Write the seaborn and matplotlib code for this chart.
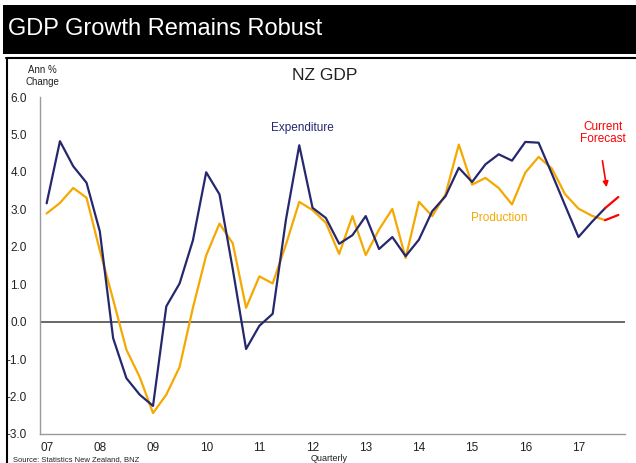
import matplotlib
matplotlib.use("Agg")
import matplotlib.pyplot as plt
from matplotlib.patches import Rectangle, FancyArrowPatch
from matplotlib.lines import Line2D
import numpy as np
import pandas as pd
import seaborn as sns

# ---- data (annual % change, quarterly 2007Q1 .. 2017Q4) ----
expenditure = [3.16, 4.82, 4.15, 3.71, 2.41, -0.44, -1.51, -1.95, -2.25, 0.41,
               1.02, 2.17, 3.99, 3.40, 1.40, -0.73, -0.11, 0.21, 2.73, 4.71,
               3.04, 2.77, 2.08, 2.31, 2.82, 1.94, 2.26, 1.75, 2.19, 2.95,
               3.35, 4.11, 3.73, 4.20, 4.47, 4.30, 4.80, 4.78, 3.95, 3.10,
               2.26, 2.66, 3.03]
production = [2.89, 3.17, 3.57, 3.31, 1.90, 0.59, -0.75, -1.48, -2.44, -1.95,
              -1.21, 0.37, 1.77, 2.62, 2.09, 0.37, 1.21, 1.02, 2.06, 3.20,
              2.98, 2.64, 1.81, 2.82, 1.78, 2.46, 3.01, 1.70, 3.20, 2.82,
              3.40, 4.73, 3.66, 3.84, 3.57, 3.13, 3.98, 4.40, 4.09, 3.40,
              3.02, 2.83, 2.71]
forecast_expenditure = [3.03, 3.33]
forecast_production = [2.71, 2.85]
year_labels = ["07", "08", "09", "10", "11", "12", "13", "14", "15", "16", "17"]
y_ticks = [-3.0, -2.0, -1.0, 0.0, 1.0, 2.0, 3.0, 4.0, 5.0, 6.0]

NAVY = "#26286E"
GOLD = "#F5A800"
RED = "#FF0000"

W, H = 636, 463
fig = plt.figure(figsize=(W / 100, H / 100), dpi=100)
sns.set_style("white")
plt.rcParams["font.family"] = ["Liberation Sans", "DejaVu Sans"]

def fx(x):
    return x / W

def fy(y):
    return 1 - y / H

ax = fig.add_axes([fx(40), fy(434), fx(625) - fx(40), fy(97) - fy(434)])

n = len(expenditure)
df = pd.DataFrame({"q": np.arange(n), "Expenditure": expenditure, "Production": production})
fc = pd.DataFrame({"q": [n - 1, n], "fe": forecast_expenditure, "fp": forecast_production})

sns.lineplot(data=df, x="q", y="Production", ax=ax, color=GOLD, linewidth=1.6)
sns.lineplot(data=df, x="q", y="Expenditure", ax=ax, color=NAVY, linewidth=1.6)
sns.lineplot(data=fc, x="q", y="fe", ax=ax, color=RED, linewidth=1.6)
sns.lineplot(data=fc, x="q", y="fp", ax=ax, color=RED, linewidth=1.6)

ax.axhline(0, color="#404040", linewidth=1.1, zorder=1)

ax.set_xlim(-0.5, n + 0.5)
ax.set_ylim(-3.0, 6.0)
ax.set_yticks(y_ticks)
ax.set_yticklabels([f"{v:.1f}" for v in y_ticks])
ax.set_xticks(np.arange(0, n + 1, 4))
ax.set_xticklabels(year_labels)
ax.set_xticks(np.arange(-0.5, n + 1, 1), minor=True)
ax.tick_params(axis="x", which="major", length=0, pad=5.5, labelsize=8.5, labelcolor="#222222")
ax.tick_params(axis="x", which="minor", length=3.5, width=0.8, color="#9a9a9a", direction="out")
ax.tick_params(axis="y", which="major", length=3.5, width=0.8, color="#9a9a9a", pad=6,
               labelsize=8.5, labelcolor="#222222", direction="out")
ax.set_xlabel("")
ax.set_ylabel("")
for s in ["top", "right"]:
    ax.spines[s].set_visible(False)
for s in ["left", "bottom"]:
    ax.spines[s].set_color("#9a9a9a")
    ax.spines[s].set_linewidth(1.0)
ax.patch.set_alpha(0)

# ---- header and frame ----
fig.patches.append(Rectangle((fx(3), fy(54)), fx(633), 49 / H, transform=fig.transFigure,
                             facecolor="black", edgecolor="none", zorder=0))
fig.text(fx(8), fy(29), "GDP Growth Remains Robust", color="white", fontsize=17,
         va="center", ha="left")
fig.lines.append(Line2D([fx(6), fx(636)], [fy(57.5), fy(57.5)], transform=fig.transFigure,
                        color="black", linewidth=1.5))
fig.lines.append(Line2D([fx(6.5), fx(6.5)], [fy(57.5), 0], transform=fig.transFigure,
                        color="black", linewidth=1.5))

fig.text(fx(42), fy(76), "Ann %\nChange", fontsize=7, ha="center", va="center",
         color="#222222", linespacing=1.15)
fig.text(fx(325), fy(75), "NZ GDP", fontsize=12.5, ha="center", va="center", color="#222222")

fig.text(fx(271), fy(128), "Expenditure", fontsize=8.5, ha="left", va="center", color=NAVY)
fig.text(fx(471), fy(218), "Production", fontsize=8.5, ha="left", va="center", color=GOLD)
fig.text(fx(603), fy(133), "Current\nForecast", fontsize=8.5, ha="center", va="center",
         color=RED, linespacing=1.1)
fig.patches.append(FancyArrowPatch((fx(602), fy(158)), (fx(607), fy(190)),
                                   transform=fig.transFigure, arrowstyle="-|>",
                                   mutation_scale=8, color=RED, linewidth=1.2))

fig.text(fx(13), fy(459.5), "Source: Statistics New Zealand, BNZ", fontsize=5.5,
         ha="left", va="center", color="#222222")
fig.text(fx(329), fy(458.5), "Quarterly", fontsize=6.5, ha="center", va="center", color="#222222")

fig.savefig("out.png", dpi=100, facecolor="white")
